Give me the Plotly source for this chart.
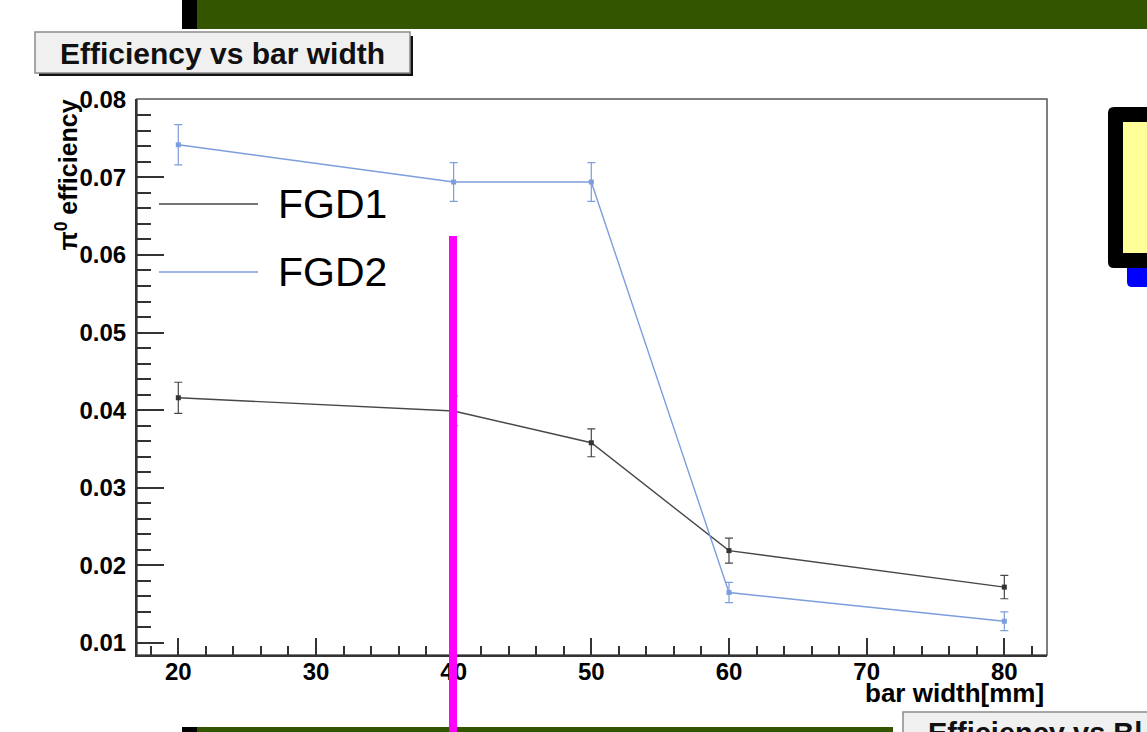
import plotly.graph_objects as go

# ---------------- data ----------------
bar_width_mm = [20, 40, 50, 60, 80]
series_names = ["FGD1", "FGD2"]
fgd1_eff = [0.0416, 0.0399, 0.0358, 0.0219, 0.0172]
fgd1_err = [0.0020, 0.0019, 0.0018, 0.0016, 0.0015]
fgd2_eff = [0.0742, 0.0694, 0.0694, 0.0165, 0.0128]
fgd2_err = [0.0026, 0.0025, 0.0025, 0.0013, 0.0012]
x_ticks = [20, 30, 40, 50, 60, 70, 80]
y_ticks = [0.01, 0.02, 0.03, 0.04, 0.05, 0.06, 0.07, 0.08]
title_text = "Efficiency vs bar width"
x_title = "bar width[mm]"
y_title = "π<sup>0</sup> efficiency"

# ---------------- styling ----------------
W, H = 1147, 732
FONT = "Liberation Sans, Arial, Helvetica, sans-serif"
C1 = "#474747"
C2 = "#7d9edc"


def px(x):
    return x / W


def py(y):
    return 1 - y / H


def rounded_rect_path(x0, y0, x1, y1, r):
    # pixel coords -> paper coords path with rounded corners
    pts = [
        ("M", x0 + r, y0), ("L", x1, y0), ("L", x1, y1), ("L", x0 + r, y1),
        ("Q", x0, y1, x0, y1 - r), ("L", x0, y0 + r), ("Q", x0, y0, x0 + r, y0),
    ]
    out = []
    for p in pts:
        cmd = p[0]
        vals = p[1:]
        coords = []
        for i in range(0, len(vals), 2):
            coords.append("%f,%f" % (px(vals[i]), py(vals[i + 1])))
        out.append(cmd + " ".join(coords))
    return " ".join(out) + " Z"


PL, PR, PT, PB = 137, 1047, 99, 655

fig = go.Figure()
fig.add_trace(go.Scatter(
    x=bar_width_mm, y=fgd1_eff, name=series_names[0], mode="lines+markers",
    line=dict(color=C1, width=1.4),
    marker=dict(symbol="square", size=5, color="#333333"),
    error_y=dict(type="data", array=fgd1_err, visible=True, color=C1, thickness=1.2, width=4),
    showlegend=False,
))
fig.add_trace(go.Scatter(
    x=bar_width_mm, y=fgd2_eff, name=series_names[1], mode="lines+markers",
    line=dict(color=C2, width=1.4),
    marker=dict(symbol="square", size=5, color=C2),
    error_y=dict(type="data", array=fgd2_err, visible=True, color=C2, thickness=1.2, width=4),
    showlegend=False,
))

shapes = []
annotations = []

# frame (top/right thin grey)
shapes.append(dict(type="rect", xref="paper", yref="paper",
                   x0=px(PL), x1=px(PR), y0=py(PB), y1=py(PT),
                   line=dict(color="#555555", width=1.5), layer="below"))

# top slide bar
shapes.append(dict(type="rect", xref="paper", yref="paper", x0=px(182), x1=px(197), y0=py(29), y1=py(0),
                   fillcolor="black", line=dict(width=0)))
shapes.append(dict(type="rect", xref="paper", yref="paper", x0=px(197), x1=px(1147), y0=py(29), y1=py(0),
                   fillcolor="#335500", line=dict(width=0)))
# bottom slide bar
shapes.append(dict(type="rect", xref="paper", yref="paper", x0=px(182), x1=px(197), y0=py(732), y1=py(727),
                   fillcolor="black", line=dict(width=0)))
shapes.append(dict(type="rect", xref="paper", yref="paper", x0=px(197), x1=px(893), y0=py(732), y1=py(727),
                   fillcolor="#335500", line=dict(width=0)))

# title box with shadow
shapes.append(dict(type="rect", xref="paper", yref="paper", x0=px(39), x1=px(413), y0=py(76), y1=py(36),
                   fillcolor="#111111", line=dict(width=0)))
shapes.append(dict(type="rect", xref="paper", yref="paper", x0=px(35), x1=px(410), y0=py(73), y1=py(32),
                   fillcolor="#f0f0f0", line=dict(color="#8a8a8a", width=1.5)))
annotations.append(dict(text=title_text, xref="paper", yref="paper", x=px(222), y=py(54),
                        xanchor="center", yanchor="middle", showarrow=False,
                        font=dict(family=FONT, size=30, color="#111111", weight="bold")))

# bottom-right partial box
shapes.append(dict(type="rect", xref="paper", yref="paper", x0=px(903), x1=px(1150), y0=py(740), y1=py(712),
                   fillcolor="#f0f0f0", line=dict(color="#8a8a8a", width=1.5)))
annotations.append(dict(text="Efficiency vs Bl", xref="paper", yref="paper", x=px(926), y=py(715),
                        xanchor="left", yanchor="top", showarrow=False,
                        font=dict(family=FONT, size=29, color="#111111", weight="bold")))

# yellow box on right
shapes.append(dict(type="path", xref="paper", yref="paper", path=rounded_rect_path(1127, 250, 1160, 287, 5),
                   fillcolor="#0000ff", line=dict(width=0)))
shapes.append(dict(type="path", xref="paper", yref="paper", path=rounded_rect_path(1108, 107, 1160, 268, 6),
                   fillcolor="black", line=dict(width=0)))
shapes.append(dict(type="rect", xref="paper", yref="paper", x0=px(1123), x1=px(1150), y0=py(253), y1=py(122),
                   fillcolor="#ffff99", line=dict(width=0)))

# legend (manual)
leg_y = [204, 272]
leg_col = [C1, C2]
for name, yy, col in zip(series_names, leg_y, leg_col):
    shapes.append(dict(type="line", xref="paper", yref="paper", x0=px(159), x1=px(258), y0=py(yy), y1=py(yy),
                       line=dict(color=col, width=1.5)))
    annotations.append(dict(text=name, xref="paper", yref="paper", x=px(276), y=py(yy),
                            xanchor="left", yanchor="middle", showarrow=False,
                            font=dict(family=FONT, size=41, color="black")))

# axis titles
annotations.append(dict(text=y_title, xref="paper", yref="paper", x=px(66), y=py(98),
                        xanchor="center", yanchor="top", textangle=-90, showarrow=False,
                        font=dict(family=FONT, size=25, color="black", weight="bold")))
annotations.append(dict(text=x_title, xref="paper", yref="paper", x=px(1046), y=py(710),
                        xanchor="right", yanchor="bottom", showarrow=False,
                        font=dict(family=FONT, size=26, color="black", weight="bold")))

# magenta vertical marker
shapes.append(dict(type="rect", xref="paper", yref="paper", x0=px(449), x1=px(457), y0=py(740), y1=py(236),
                   fillcolor="#ff00ff", line=dict(width=0), layer="above"))

fig.update_layout(
    width=W, height=H, autosize=False,
    margin=dict(l=0, r=0, t=0, b=0, pad=0, autoexpand=False),
    paper_bgcolor="white", plot_bgcolor="white",
    shapes=shapes, annotations=annotations,
    xaxis=dict(
        domain=[px(PL), px(PR)], range=[17.0, 83.1], automargin=False,
        tickvals=x_ticks, ticktext=[str(v) for v in x_ticks],
        ticks="inside", ticklen=17, tickwidth=2, tickcolor="#333333",
        minor=dict(ticks="inside", ticklen=9, tickwidth=1.5, tickcolor="#333333", dtick=2, tick0=0, showgrid=False),
        showgrid=False, zeroline=False,
        showline=True, linecolor="#333333", linewidth=2,
        tickfont=dict(family=FONT, size=24, color="black", weight="bold"),
        ticklabelstandoff=-6,
    ),
    yaxis=dict(
        domain=[py(PB), py(PT)], range=[0.00845, 0.0801], automargin=False,
        tickvals=y_ticks, ticktext=["%.2f" % v for v in y_ticks],
        ticks="inside", ticklen=27, tickwidth=2, tickcolor="#333333",
        minor=dict(ticks="inside", ticklen=14, tickwidth=1.5, tickcolor="#333333", dtick=0.002, tick0=0, showgrid=False),
        showgrid=False, zeroline=False,
        showline=True, linecolor="#333333", linewidth=2,
        tickfont=dict(family=FONT, size=24, color="black", weight="bold"),
        ticklabelstandoff=4,
    ),
)

post_js = (
    "document.documentElement.style.margin='0';"
    "document.documentElement.style.overflow='hidden';"
    "document.body.style.margin='0';"
    "document.body.style.padding='0';"
    "document.body.style.overflow='hidden';"
    "var gd=document.getElementById('{plot_id}');"
    "gd.style.position='fixed';gd.style.left='0px';gd.style.top='0px';"
    "gd.style.width='1147px';gd.style.height='732px';"
    "Plotly.relayout(gd,{width:1147,height:732});"
)

fig.write_html("out.html", post_script=post_js, config={"displayModeBar": False})
